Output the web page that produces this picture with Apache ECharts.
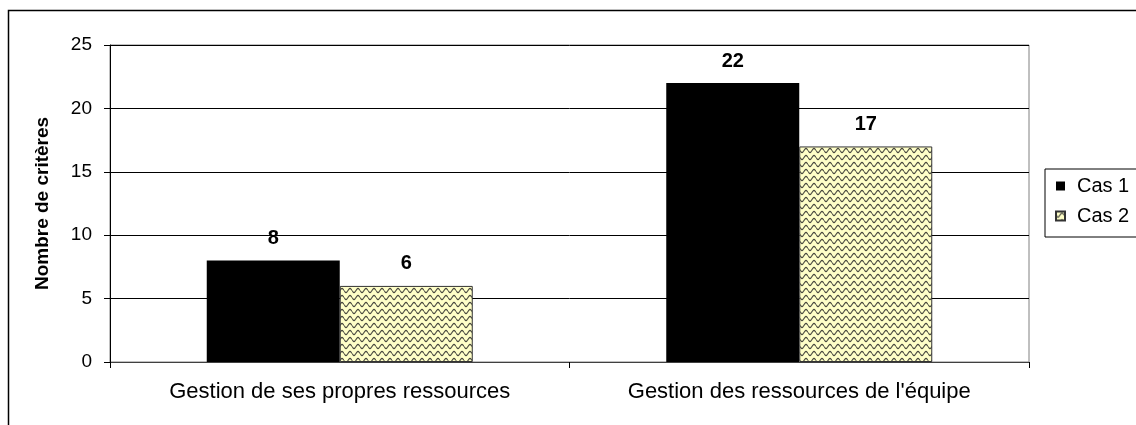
<!DOCTYPE html>
<html>
<head>
<meta charset="utf-8">
<script src="https://cdn.jsdelivr.net/npm/echarts@6/dist/echarts.min.js"></script>
<style>
  html, body { margin: 0; padding: 0; background: #fff; }
  #chart { width: 1136px; height: 425px; }
</style>
</head>
<body>
<div id="chart"></div>
<script>
const categories = ['Gestion de ses propres ressources', "Gestion des ressources de l'équipe"]
const seriesNames = ['Cas 1', 'Cas 2']
const cas1 = [8, 22]
const cas2 = [6, 17]
const yTicks = [0, 5, 10, 15, 20, 25]

const FONT = 'Liberation Sans, Arial, sans-serif'

// wavy fill for Cas 2
function wavePattern() {
  const c = document.createElement('canvas')
  c.width = 8
  c.height = 7
  const ctx = c.getContext('2d')
  ctx.fillStyle = '#ffffc8'
  ctx.fillRect(0, 0, 8, 7)
  ctx.strokeStyle = '#4a4a40'
  ctx.lineWidth = 1.2
  ctx.beginPath()
  for (let x = 0; x <= 8; x += 0.5) {
    const y = 3.5 + 2 * Math.sin((x / 8) * Math.PI * 2)
    if (x === 0) ctx.moveTo(x, y)
    else ctx.lineTo(x, y)
  }
  ctx.stroke()
  return c
}

const chart = echarts.init(document.getElementById('chart'))
const labelStyle = {
  show: true,
  position: 'top',
  distance: 12,
  fontFamily: FONT,
  fontSize: 20,
  fontWeight: 'bold',
  color: '#000'
}

chart.setOption({
  animation: false,
  graphic: [
    {
      type: 'rect',
      shape: { x: 8.5, y: 10.5, width: 1400, height: 600 },
      style: { fill: 'none', stroke: '#000', lineWidth: 1.5 },
      silent: true
    }
  ],
  grid: {
    left: 110,
    right: 107,
    top: 45,
    bottom: 63,
    show: true,
    borderColor: '#808080',
    borderWidth: 1
  },
  legend: {
    left: 1045,
    top: 169,
    orient: 'vertical',
    itemWidth: 9,
    itemHeight: 9,
    itemGap: 10,
    padding: [7, 20, 11, 10],
    borderColor: '#000',
    borderWidth: 1,
    textStyle: { fontFamily: FONT, fontSize: 20, color: '#000', padding: [0, 0, 0, 7] },
    data: seriesNames.map(n => ({ name: n, icon: 'rect' }))
  },
  xAxis: {
    type: 'category',
    data: categories,
    axisLine: { lineStyle: { color: '#404040', width: 1 } },
    axisTick: { show: true, length: 6, lineStyle: { color: '#000' } },
    axisLabel: {
      margin: 19,
      fontFamily: FONT,
      fontSize: 22,
      color: '#000'
    }
  },
  yAxis: {
    type: 'value',
    min: yTicks[0],
    max: yTicks[yTicks.length - 1],
    interval: 5,
    name: 'Nombre de critères',
    nameLocation: 'middle',
    nameGap: 58,
    nameTextStyle: { fontFamily: FONT, fontSize: 19, fontWeight: 'bold', color: '#000' },
    axisLine: { show: true, lineStyle: { color: '#000' } },
    axisTick: { show: true, length: 6, lineStyle: { color: '#000' } },
    axisLabel: { margin: 18, fontFamily: FONT, fontSize: 19, color: '#000' },
    splitLine: { lineStyle: { color: '#000', width: 1 } }
  },
  series: [
    {
      name: seriesNames[0],
      type: 'bar',
      data: cas1,
      barWidth: 133,
      barGap: '0%',
      itemStyle: { color: '#000' },
      label: labelStyle
    },
    {
      name: seriesNames[1],
      type: 'bar',
      data: cas2,
      barWidth: 133,
      itemStyle: {
        color: { image: wavePattern(), repeat: 'repeat' },
        borderColor: '#333',
        borderWidth: 1
      },
      label: labelStyle
    }
  ]
})
</script>
</body>
</html>
